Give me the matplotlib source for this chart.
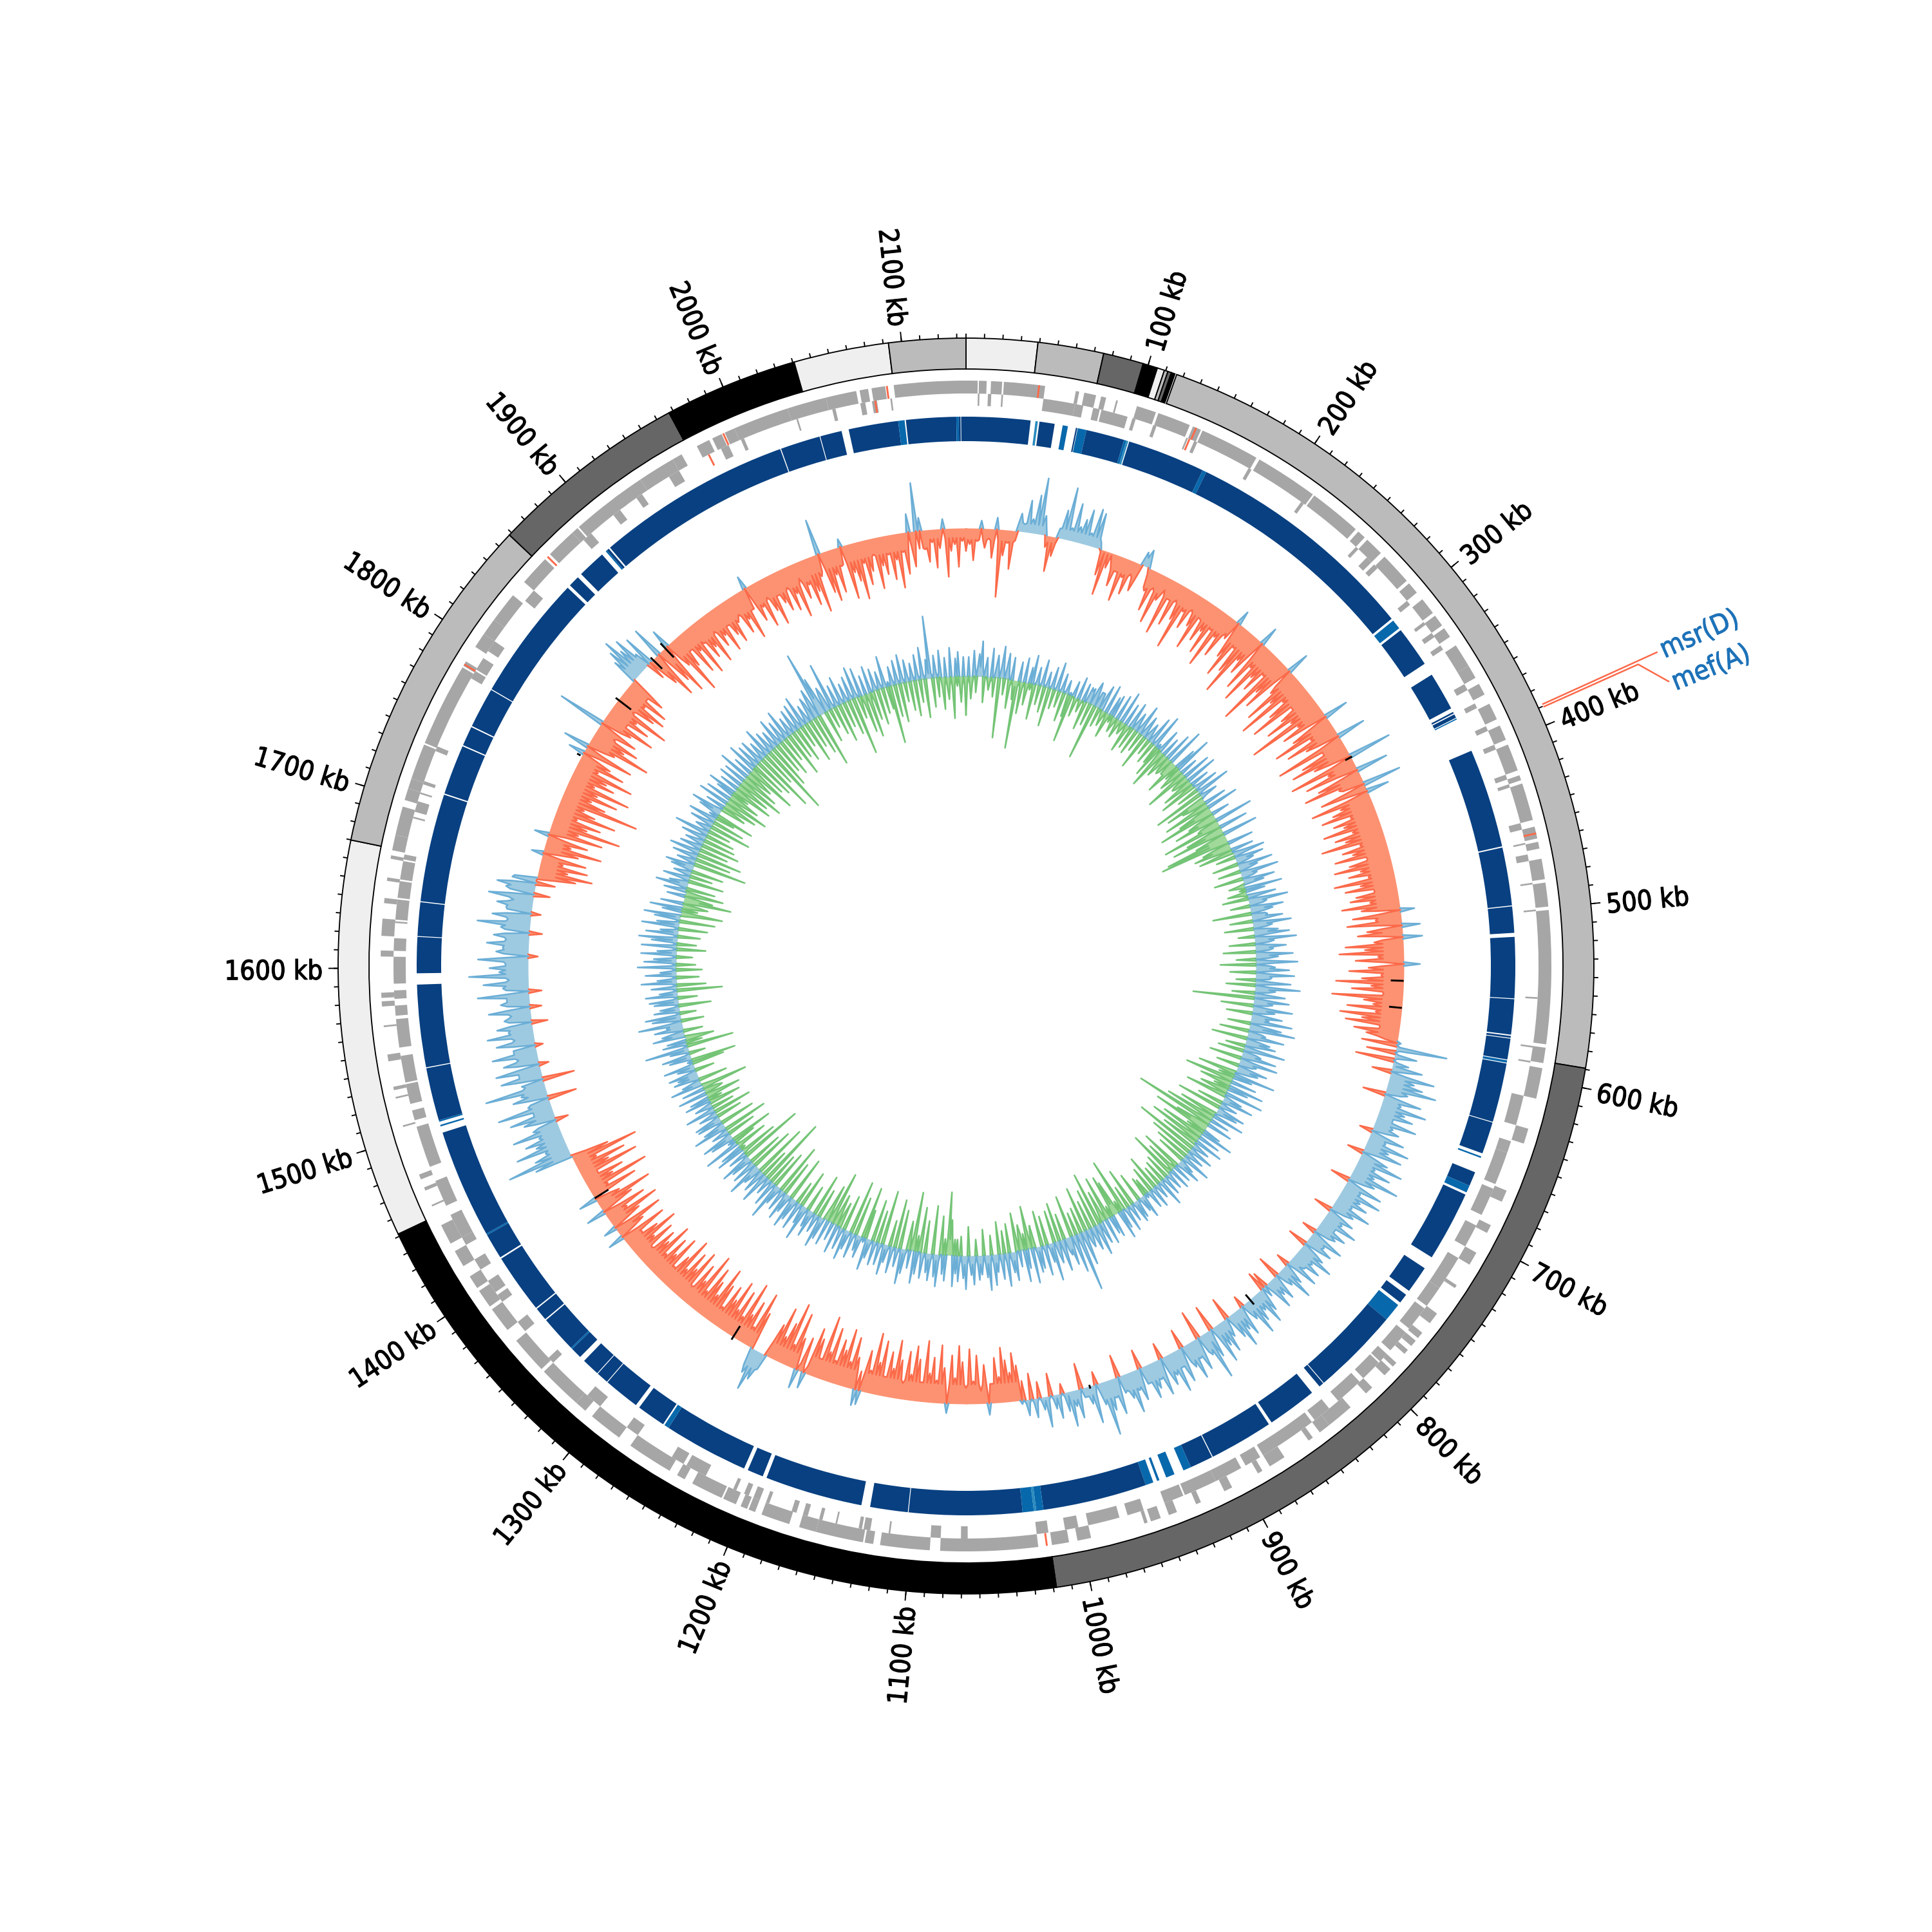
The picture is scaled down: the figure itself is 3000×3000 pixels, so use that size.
import matplotlib
matplotlib.use('Agg')
import matplotlib.pyplot as plt
import matplotlib.patheffects as pe
import numpy as np

# tracks were read on a 2130 kb circle, the tick scale runs to 2135 kb
track_kb = 2130
tick_kb = 2135

# ideogram bands (start, end, colour), kb
band_start = [0, 39, 75, 97, 105, 109, 111, 113, 116, 588, 1016, 1448, 1666, 1854, 1963, 2036, 2088]
band_end = [39, 75, 97, 105, 109, 111, 113, 115, 588, 1016, 1448, 1666, 1854, 1963, 2036, 2088, 2130]
band_colour = ['#efefef', '#bbbbbb', '#666666', '#000000', '#efefef', '#bbbbbb', '#666666', '#000000',
               '#bbbbbb', '#666666', '#000000', '#efefef', '#bbbbbb', '#666666', '#000000', '#efefef', '#bbbbbb']

# genes, outer row
outer_genes = [(0, 6.8), (7.5, 12), (14.5, 21), (22, 46), (64, 66), (69, 76), (79, 82), (88, 89), (100.5, 112),
               (113.5, 133), (135, 140), (141, 176), (178, 215), (216, 247), (249, 254), (256, 267), (270, 289),
               (291, 298), (303, 313), (315, 322), (324, 330), (336, 350), (350, 358), (362, 369), (375, 385),
               (389, 398), (401, 417), (420, 423), (425, 447), (451, 458), (460, 464), (470, 482), (484, 498),
               (500, 578), (580, 589), (592, 610), (628, 637), (666, 673), (688, 693), (706, 714), (728, 730),
               (748, 755), (762, 766), (768, 772), (775, 778), (785, 788), (790, 795), (805, 810), (822, 838),
               (838, 845), (850, 853), (870, 880), (885, 888), (905, 910), (925, 928), (940, 945), (950, 956),
               (958, 960), (992, 1000), (1005, 1015), (1023, 1080), (1086, 1115), (1119, 1124), (1125, 1153),
               (1153, 1163), (1169, 1186), (1190, 1194), (1195, 1199), (1202, 1210), (1211, 1230), (1235, 1240),
               (1245, 1272), (1280, 1300), (1305, 1312), (1312, 1338), (1340, 1362), (1370, 1385), (1387, 1398),
               (1400, 1408), (1415, 1425), (1430, 1442), (1454, 1455), (1464, 1466), (1471, 1474), (1503, 1504),
               (1520, 1521), (1525, 1527), (1542, 1546), (1562, 1563), (1574, 1577), (1579, 1582), (1603, 1606.5),
               (1615, 1625), (1634, 1637), (1647, 1649), (1660, 1662), (1665, 1674), (1674, 1691), (1695, 1702),
               (1702, 1708), (1708, 1729), (1730, 1779), (1780, 1783), (1793, 1802), (1802, 1812), (1812, 1830),
               (1840, 1858), (1862, 1880), (1880, 1884), (1885, 1915), (1912, 1930), (1930, 1952), (1952, 1958),
               (1968, 1976), (1978, 1984), (1986, 1992), (1992, 2025), (2025, 2048), (2048, 2066), (2068, 2073),
               (2075, 2083), (2088, 2130)]

# genes, inner row
inner_genes = [(7, 8), (13, 15), (21, 22), (46, 65), (65, 70), (76, 80), (81, 97), (100, 102), (113, 115), (134, 135),
               (139, 141), (175, 177), (212, 214), (254, 256), (263, 267), (269, 272), (298, 301), (314, 316),
               (322, 325), (331, 334), (358, 362), (371, 374), (386, 389), (398, 401), (417, 420), (423, 425),
               (447, 451), (459, 460), (466, 470), (483, 484), (499, 500), (551, 552), (580, 581), (589, 590),
               (610, 628), (638, 645), (645, 665), (668, 685), (692, 706), (714, 735), (735, 748), (750, 765),
               (768, 782), (785, 791), (792, 805), (808, 825), (832, 843), (845, 880), (882, 892), (895, 912),
               (912, 932), (933, 945), (958, 968), (973, 992), (998, 1006), (1016, 1023), (1064, 1068), (1080, 1086),
               (1110, 1111), (1122, 1126), (1127, 1129), (1142, 1143), (1151, 1153), (1160, 1163), (1167, 1170),
               (1184, 1186), (1190, 1194), (1197, 1200), (1205, 1207), (1225, 1238), (1240, 1248), (1272, 1280),
               (1300, 1310), (1338, 1342), (1363, 1370), (1385, 1390), (1392, 1400), (1408, 1415), (1425, 1430),
               (1430, 1445), (1451, 1467), (1476, 1501), (1505, 1511), (1515, 1527), (1528, 1544), (1549, 1566),
               (1568, 1574), (1578, 1583), (1587, 1603), (1606.5, 1614), (1623, 1624), (1625, 1637), (1638, 1648),
               (1649, 1660), (1661, 1664), (1686, 1687), (1690, 1696.5), (1701, 1702), (1707, 1709), (1728, 1731),
               (1776, 1781), (1782, 1790), (1795, 1802), (1832, 1840), (1882, 1888), (1905, 1910), (1922, 1926),
               (1945, 1952), (1980, 1985), (1993, 1995), (2028, 2029), (2050, 2052), (2067, 2070), (2074, 2077),
               (2085, 2086)]

red_outer = [42.5, 137, 455, 1018, 1781, 1860, 1985, 2084]
red_inner = [136, 1972, 2076]

# similarity ring: start, end, tone (0 dark, 1 mid, 2 light)
ring_segments = [
    (0, 40, 0), (43, 44.5, 2), (45.5, 55, 0), (60, 63.3, 1), (68.3, 69.2, 0), (69.5, 75, 1), (75, 99, 0),
    (99, 100.5, 1), (100.5, 101.7, 2), (102.3, 151, 0), (151, 153.5, 1), (153.5, 300.5, 0), (302, 308, 1),
    (309.5, 335, 0), (343, 367, 0), (369.5, 370.5, 0), (371.2, 373.5, 0), (374, 374.7, 1), (396, 458, 0),
    (458.8, 495, 0), (495.6, 512, 0), (514.5, 552.5, 0), (553, 575, 0), (575.8, 577, 0), (577.5, 590.5, 0),
    (591, 592.5, 1), (593, 630, 0), (630.5, 650.5, 0), (652.5, 653.5, 1), (663, 672, 0), (672, 676.5, 1),
    (678, 722, 0), (730, 747, 0), (750, 756, 0), (758, 769.5, 1), (769.5, 824.5, 0), (825, 828, 0), (834, 865, 0),
    (867, 907, 0), (907.6, 922, 0), (922, 927, 1), (933, 938.5, 1), (943, 944.5, 1), (947, 952, 1), (952, 1017, 0),
    (1017, 1021.5, 1), (1021.5, 1023, 2), (1023, 1030, 1), (1030, 1100.5, 0), (1101, 1124.5, 0), (1130, 1191, 0),
    (1193.5, 1203.5, 0), (1206, 1259, 0), (1259, 1262, 1), (1263, 1281, 0), (1283.5, 1306, 0), (1306.5, 1314, 0),
    (1314.5, 1325.6, 0), (1329, 1336, 0), (1336, 1337, 1), (1337, 1360, 0), (1360.8, 1369, 0), (1369.8, 1407, 0),
    (1408, 1424, 0), (1424, 1425, 1), (1425, 1493, 0), (1497, 1498, 1), (1500, 1501, 1), (1501, 1534, 0),
    (1534.6, 1586, 0), (1593, 1615.5, 0), (1616, 1637, 0), (1637.6, 1705, 0), (1705.8, 1737, 0), (1737.8, 1750, 0),
    (1750.8, 1776, 0), (1776.6, 1855, 0), (1857, 1864, 0), (1866.8, 1884.5, 0), (1887.5, 1888.5, 1),
    (1888.5, 1890, 0), (1891, 2013, 0), (2013.6, 2038.5, 0), (2039, 2052.5, 0), (2057, 2088, 0), (2088, 2092, 1),
    (2092.8, 2124, 0), (2124, 2125.5, 1), (2125.5, 2126.6, 0), (2127, 2130, 0)]

# solid rim of the outer histogram between spikes: section start (kb) and level
outer_rim_kb = [0, 39, 63, 72, 104, 116, 140, 146, 200, 300, 400, 500, 590, 612, 700, 780, 870, 960, 985, 1023, 1100,
                1190, 1200, 1228, 1240, 1300, 1400, 1446, 1500, 1600, 1666, 1780, 1840, 1855, 1900, 2000, 2100]
outer_rim = [-18, 14, -10, 16, -4, -25, 14, -30, -32, -35, -36, -32, 6, 25, 25, 18, 28, 15, 6, -30, -30,
             -12, -25, 28, -25, -28, -25, 30, 35, 38, -28, -35, 22, -30, -35, -28, -15]

# solid rim of the inner histogram
inner_rim_kb = [0, 10, 24, 34, 50, 80, 130, 145, 165, 205, 235, 250, 305, 325, 395, 435, 450, 660, 690, 715, 755, 790,
                800, 870, 900, 960, 985, 1005, 1075, 1095, 1118, 1135, 1218, 1240, 1320, 1345, 1360, 1375, 1430, 1455,
                1475, 1505, 1515, 1535, 1657, 1686, 1790, 1850, 1940, 1965, 2000, 2020, 2100]
inner_rim = [-12, 15, -8, 16, -10, 5, -5, 25, -12, 15, 8, -25, 8, -30, 18, -10, 22, -25, 12, -30, 12, -10,
             8, -18, 20, 8, -25, 14, -25, 10, -25, 8, -25, 10, 18, 10, -8, 12, -22, 15,
             8, -25, 20, 8, -25, 14, -28, 12, 28, 8, -15, 8, -15]

# spikes of the outer histogram, one value every 3 kb
outer_skew = [
    -35, -25, -50, -20, 12, -30, -15, -45, 18, -105,
    -40, -20, -60, -15, 28, 12, 50, 22, 60, 88,
    30, -18, -55, -30, 15, 45, 82, 20, 60, 25,
    38, 55, 20, 60, 55, 10, -40, -70, -25, -15,
    -50, -25, -70, -30, -55, -20, -45, 22, 28, -10,
    -35, -65, -25, -80, -40, -20, -90, -30, -70, -25,
    -55, -100, -35, -60, -25, -50, -85, -30, -65, -45,
    -80, -35, -95, -40, -70, -25, 22, -60, -90, -35,
    -75, -110, -45, -65, 30, -85, -40, -100, -50, -70,
    -35, -120, -60, -85, 35, -45, -95, -55, -115, -40,
    -70, -105, -35, -60, -90, -50, -125, -45, -75, 38,
    -65, -100, -40, -85, -55, 45, -110, -35, -75, -95,
    -60, 68, -105, -45, -85, 50, -70, -95, -40, 60,
    -75, 35, -95, -50, -65, -85, -40, -70, -55, -90,
    -45, -75, -60, -100, -40, -70, -55, -85, -35, -65,
    -90, -50, -70, -40, -95, -55, -80, -35, -65, -75,
    -45, -90, -60, 22, -75, -40, -85, 28, -55, -70,
    30, -45, -90, -60, -100, -40, -75, 25, -55, -85,
    -35, -65, -105, -50, -80, -30, -110, -60, -45, -85,
    -40, -95, -60, -85, -30, -70, -50, -20, -55, 80,
    -45, 35, -60, 25, 48, -30, 70, 40, 55, 78,
    35, -35, 60, 30, 72, 40, 55, 25, 65, 30,
    42, -20, 55, 28, 68, 38, 62, -25, 45, 72,
    30, 58, 35, 78, 42, -30, 60, 28, 65, 35,
    50, 28, 62, 38, -28, 45, 30, 58, 25, 48,
    35, -22, 55, 28, 45, -30, 40, 60, 30, 48,
    25, 52, -20, 35, 58, 28, -35, 42, 30, 48,
    -25, -30, 38, 55, 28, 42, 60, 30, -18, 48,
    35, 60, 40, -35, 30, 52, 38, 62, -40, 45,
    78, 35, -45, 52, 30, 60, 38, -30, 55, 28,
    65, 35, 48, -25, 58, 30, 42, 55, 28, -30,
    50, 32, 65, 40, 25, -35, 58, 30, 48, 85,
    35, -20, 60, 28, 15, -40, 45, 25, 55, 30,
    -15, 38, 22, -35, 48, 20, -25, 30, -40, 25,
    -30, -55, -75, -45, -65, -85, -40, -70, -30, 18,
    -60, -20, -75, -35, -85, -25, -65, -90, -40, -75,
    15, -55, -90, -35, -70, -45, -95, -30, -65, -85,
    -40, -75, -25, -60, -90, -45, -70, -30, -85, -50,
    -95, -35, -65, 22, 25, -50, -80, -40, -90, -55,
    -70, -35, -85, -45, -100, -30, -60, -75, 25, -55,
    30, -50, -88, -35, -100, -65, -40, -85, -55, 25,
    45, 65, 40, -60, -90, -30, -70, -45, -95, -35,
    -75, -40, -85, -50, -70, -30, -65, -90, -40, -60,
    -80, -35, -95, -45, -70, -25, -85, -50, -75, -40,
    -90, -55, -30, -80, -45, -70, -35, -85, -50, -65,
    -25, -70, -40, -85, -55, -30, -75, 25, -45, -80,
    20, -50, -85, -35, -70, 30, -55, -90, -40, 28,
    -75, -30, -100, -45, -65, -25, -95, -50, -80, -35,
    -105, -60, 60, 102, 55, 35, 80, 45, 60, 35,
    75, 40, -20, 50, 70, 30, 85, 35, -45, 55,
    40, 95, 30, -50, 65, 35, 70, -15, 55, 30,
    70, 35, -12, 60, 30, 72, 38, 55, -25, 42,
    30, 65, -18, 45, 35, 80, -20, 40, 70, 30,
    92, 45, 60, 35, 78, -15, 50, 40, 65, 35,
    55, -20, 45, 82, 35, 60, -15, 40, 55, 30,
    70, -25, 45, 60, -30, 35, -60, -85, -45, -75,
    -35, -70, 18, -55, -90, -40, -65, 22, -85, -45,
    -110, -55, -75, -35, -95, -60, -40, -125, -70, -45,
    -85, -50, -100, -40, -70, -55, -95, -35, -75, -50,
    25, -80, 40, -45, -100, -55, -75, -30, -65, 75,
    -50, -85, -35, -70, -45, -95, -30, -65, -80, -40,
    -75, -35, -60, 40, 55, 70, 45, 60, 25, 50,
    -50, -78, 50, -60, -85, 30, -45, -97, -55, -30,
    -75, -40, -85, -35, -65, -50, -80, -30, -60, -45,
    -75, -35, -55, -70, -40, -30, -65, -45, -80, -35,
    20, -60, -40, -75, -30, -55, -80, -35, -50, -65,
    -30, -70, -45, -85, -25, -60, -40, -75, -55, -90,
    -35, 55, -65, -80, -40, -70, -30, 12, -85, -45,
    -60, -90, -35, -70, -50, -25, -80, -45, -60, -30,
    -70, -40, -85, -30, -65, 28, -55, 75, 20, -30,
    -50, -20, -60, -30, 15, -75, -35, -25, -60, -20]

# spikes of the inner histogram, one value every 3 kb
inner_skew = [
    -60, 30, -35, 40, -25, 35, 55, -40, 30, -20,
    45, -30, 35, -93, 50, -25, 40, -45, 35, -30,
    -106, 30, -50, 38, -35, 25, 45, -55, 28, -30,
    42, -40, 25, -60, 35, -30, 45, -25, 30, -45,
    22, -35, -74, 25, -30, 35, -20, 28, -45, 20,
    -35, 38, -87, 25, -30, 40, -25, 45, -40, 30,
    35, -25, 40, -30, 50, -20, 35, -45, 42, -35,
    30, -40, 48, -30, 35, -55, 28, -25, 45, -35,
    55, -30, -50, 38, -65, 30, -40, 45, -30, 60,
    -25, -55, 35, 60, -40, 28, -70, 45, -30, 50,
    -50, 30, -60, 40, -35, 55, -80, 28, -65, -40,
    35, -75, 50, -55, -90, 28, -45, -70, 60, -35,
    -95, 45, -60, -85, 55, -50, -100, -111, 40, -45,
    -60, 35, -55, 50, -30, 45, 28, -40, 55, 30,
    -35, 60, 25, -45, 50, 32, -25, 58, 30, -30,
    45, -40, 62, 28, -30, 52, 35, -60, 25, 48,
    -35, 60, 30, -45, 38, 55, -25, 65, 30, -40,
    48, 28, -50, 58, 35, -30, 65, -55, 30, 52,
    -40, 60, 25, -30, 55, -45, 70, 32, -35, 48,
    -95, 55, 30, -50, 62, 35, -40, 48, 28, 65,
    -35, 50, 72, -45, 28, 58, -55, 38, 48, -30,
    65, -40, 30, 55, -50, 60, 28, -35, 48, 35,
    -60, 65, 30, -77, 40, -50, 55, 32, -45, 60,
    -65, 30, 50, -40, 28, -70, 45, 35, -60, 50,
    -80, 30, -127, 40, -55, -90, 28, 52, -70, 35,
    -85, 45, -60, 28, -100, 40, -70, 30, -55, 48,
    -45, 25, 40, -65, 30, -50, 35, -75, 28, -40,
    32, -35, 45, -30, 25, -55, 35, -40, 30, -25,
    -30, 38, 25, -45, 30, 35, -60, 28, -35, 40,
    -85, 30, 45, -55, -66, 35, 28, -70, 40, -50,
    35, -84, 50, -60, 38, -45, 30, -70, 55, -40,
    93, -35, 60, -65, 45, 28, -40, 50, -60, 35,
    -50, 60, 30, -45, 48, -55, 35, 40, -35, 55,
    -67, 30, 50, -40, 25, -60, 45, 32, -45, 52,
    -35, 40, -50, 28, 48, -30, 55, 35, -40, 30,
    38, -25, 45, 30, -45, 52, 35, -30, 40, 28,
    48, -55, -98, 40, 30, -60, 50, 35, -75, 42,
    30, -50, 40, -70, 35, 50, -92, 28, -45, 38,
    55, -60, 30, -75, 42, -40, 28, 48, -84, 35,
    -50, 38, -65, 30, 50, -45, -80, 35, 25, -60,
    40, -83, 30, 48, -55, 35, -40, 45, -50, 28,
    -83, 40, -58, 35, 50, -45, 30, -65, 42, 28,
    -40, 55, 30, -58, 45, -35, 35, 50, -70, 30,
    45, -55, 35, -80, 30, 59, -60, 42, -50, 28,
    -108, 50, -45, 38, -85, 30, 55, -70, 40, -55,
    35, 50, -99, 30, -60, 45, 35, -50, 57, -35,
    -67, 38, 50, -45, 28, -70, 54, 35, -55, 40,
    42, -40, 30, -60, 48, -35, 28, -50, 40, 30,
    -55, 45, -30, 35, -73, 50, 30, -45, 40, 32,
    45, -30, 28, 48, -50, -70, 35, 45, -25, 30,
    68, -73, 38, 30, -45, 50, 35, -30, 45, 25,
    68, -35, 45, 55, -25, 40, 30, -50, 38, 45,
    -30, 50, 28, -70, 40, -45, 55, 30, -35, 48,
    25, -40, 60, -30, 50, 35, -25, 55, 30, -45,
    55, -30, 40, 60, -35, 50, 28, -45, 58, 35,
    -55, 40, 57, -65, 30, 50, -40, 35, -75, -45,
    28, -60, 35, -45, 50, 30, -55, 42, -35, 28,
    -50, 35, 45, -83, 30, -55, 40, -70, 48, -45,
    35, -60, 30, -50, 40, -45, 55, -35, 25, -65,
    38, -50, 45, -30, -60, 35, 50, -40, 30, -55,
    48, -70, 40, -50, 28, 45, -65, 30, -55, 38,
    -75, 35, -60, 50, -45, 30, -80, 48, -56, 38,
    -65, 40, -95, 30, -55, 48, -111, 35, -70, 30,
    -50, 45, -60, 35, -40, 48, -70, 30, -45, 38,
    -55, 42, -35, 50, -65, 30, -45, 38, -60, 48,
    -84, 105, 60, -50, 40, -30, 75, -45, 35, -60,
    45, -40, 30, -55, 38, -90, 50, -35, 45, -60,
    30, -70, 42, -45, 35, -55, 28, -40, 50, -35,
    -90, 30, -50, 38, -60, 45, -30, 35, -45, 28,
    -55, 40, -35, 50, -60, 30, 97, -45, 35, -30,
    42, -50, 30, -35, 45, -65, 28, 38, -40, 30]

# small black marks in the outer histogram: kb, r from, r to
mark_kb = [565, 544, 364, 826, 968, 1408, 1255, 1819, 1873, 1860, 1767]
mark_r0 = [660, 660, 670, 670, 678, 655, 660, 655, 660, 660, 682]
mark_r1 = [680, 680, 682, 690, 684, 680, 685, 685, 690, 685, 688]


def th(kb):
    return np.asarray(kb, dtype=float) / track_kb * 2 * np.pi


def arcs(ax, start, end, r0, r1, colour, **kw):
    start = np.asarray(start, dtype=float)
    end = np.asarray(end, dtype=float)
    ax.bar(th((start + end) / 2), r1 - r0, width=th(end - start), bottom=r0, color=colour, align='center', **kw)


def histogram(ax, values, rim_kb, rim, base, up_fill, up_line, down_fill, down_line):
    # spike at every bin, the section's rim level half way to the next bin
    spike_x = np.arange(len(values)) * 3.0
    rim_x = spike_x + 1.5
    rim_v = np.array(rim)[np.searchsorted(rim_kb, rim_x, side='right') - 1]
    x = np.empty(2 * len(values) + 1)
    v = np.empty(2 * len(values) + 1)
    x[0::2] = np.r_[spike_x, len(values) * 3.0]
    x[1::2] = rim_x
    v[0::2] = np.r_[values, values[0]]
    v[1::2] = rim_v
    x = th(x)
    up = np.clip(v, 0, None)
    down = np.clip(v, None, 0)
    ax.fill_between(x, base, base + up, color=up_fill, lw=0)
    ax.fill_between(x, base, base + down, color=down_fill, lw=0)
    for part, colour in ((up, up_line), (down, down_line)):
        keep = np.convolve(part != 0, [1, 1, 1], mode='same') > 0
        ax.plot(x, np.ma.masked_where(~keep, base + part), color=colour, lw=0.6, solid_joinstyle='round')


fig = plt.figure(figsize=(10, 10), dpi=300)
ax = fig.add_axes([0, 0, 1, 1], projection='polar')
ax.set_theta_zero_location('N')
ax.set_theta_direction(-1)
ax.set_ylim(0, 1500)
ax.set_axis_off()

# ideogram
arcs(ax, band_start, band_end, 927, 975, band_colour, edgecolor='black', linewidth=0.45)

# ticks and labels
minor = np.arange(0, tick_kb, 10)
major = np.arange(100, tick_kb, 100)
ax.vlines(minor / tick_kb * 2 * np.pi, 975, 982, color='black', lw=0.45)
ax.vlines(major / tick_kb * 2 * np.pi, 975, 990, color='black', lw=0.45)
thick = [pe.withStroke(linewidth=0.3, foreground='black')]
for k in major:
    deg = k / tick_kb * 360
    if deg < 180:
        rot, ha = 90 - deg, 'left'
    else:
        rot, ha = 270 - deg, 'right'
    off = (1.2 * np.sin(np.radians(rot)), -1.2 * np.cos(np.radians(rot)))
    ax.annotate('%d kb' % k, xy=(np.radians(deg), 999), xytext=off, textcoords='offset points',
                rotation=rot, rotation_mode='anchor', ha=ha, va='center',
                fontsize=10, family='DejaVu Sans', stretch='condensed', path_effects=thick)

# genes
g = np.array(outer_genes)
arcs(ax, g[:, 0], g[:, 1], 889, 909, '#a6a6a6', linewidth=0)
g = np.array(inner_genes)
arcs(ax, g[:, 0], g[:, 1], 870, 889, '#a6a6a6', linewidth=0)
ax.vlines(th(red_outer), 889, 909, color='#fb6a4a', lw=0.7)
ax.vlines(th(red_inner), 870, 889, color='#fb6a4a', lw=0.7)

# similarity ring
tones = ['#084081', '#0868ac', '#2b8cbe']
seg = np.array(ring_segments)
arcs(ax, seg[:, 0], seg[:, 1], 815, 853, [tones[int(t)] for t in seg[:, 2]], linewidth=0)

# histograms
histogram(ax, outer_skew, outer_rim_kb, outer_rim, 680, '#9ecae1', '#6baed6', '#fc9272', '#fb6a4a')
histogram(ax, inner_skew, inner_rim_kb, inner_rim, 450, '#9ecae1', '#6baed6', '#a1d99b', '#74c476')
ax.vlines(th(mark_kb), mark_r0, mark_r1, color='black', lw=0.7)

# gene labels
ax.plot(th([388, 388]), [984, 1178], color='#fb6a4a', lw=0.6)
ax.plot(th([389.5, 389.5, 402]), [984, 1144, 1177], color='#fb6a4a', lw=0.6)
blue_text = [pe.withStroke(linewidth=0.25, foreground='#1d72b8')]
ax.text(th(388.5), 1250, 'msr(D)', color='#1d72b8', rotation=24, rotation_mode='anchor', ha='center', va='center',
        fontsize=10, family='DejaVu Sans', stretch='condensed', path_effects=blue_text)
ax.text(th(403.5), 1246, 'mef(A)', color='#1d72b8', rotation=22, rotation_mode='anchor', ha='center', va='center',
        fontsize=10, family='DejaVu Sans', stretch='condensed', path_effects=blue_text)

fig.savefig('out.png', dpi=300, facecolor='white')
